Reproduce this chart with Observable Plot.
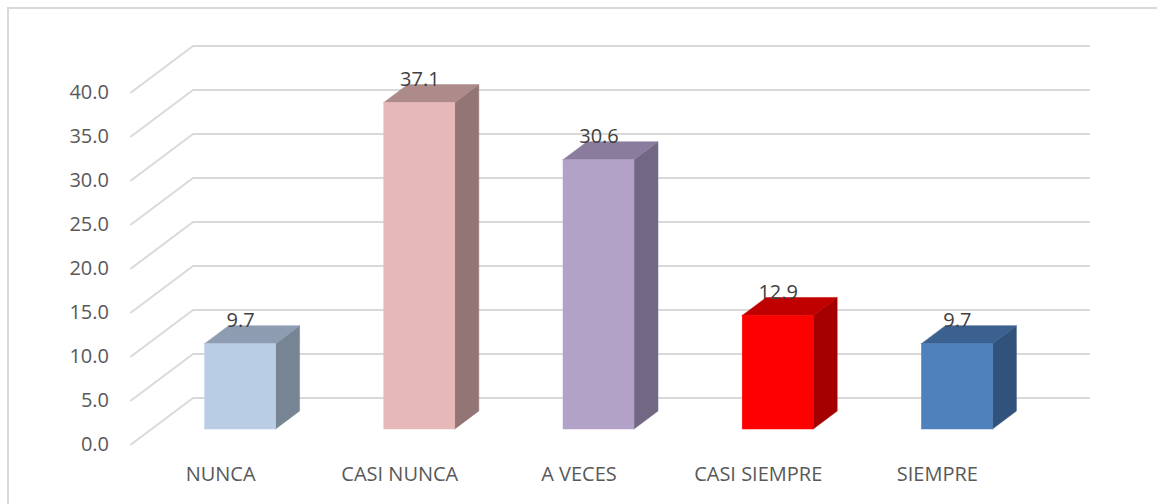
<!DOCTYPE html>
<html>
<head>
<meta charset="utf-8">
<script src="https://cdn.jsdelivr.net/npm/d3@7"></script>
<script src="https://cdn.jsdelivr.net/npm/@observablehq/plot@0.6"></script>
<style>
  html, body { margin: 0; padding: 0; background: #fff; overflow: hidden; }
  #wrap { position: relative; width: 1157px; height: 504px; overflow: hidden; }
  #border { position: absolute; left: 7px; top: 7px; width: 1300px; height: 700px; border: 2px solid #D9D9D9; box-sizing: border-box; }
  #chart { position: absolute; left: 0; top: 0; }
</style>
</head>
<body>
<div id="wrap"><div id="border"></div><div id="chart"></div></div>
<script>
// ---- data ----
const categories = ["NUNCA", "CASI NUNCA", "A VECES", "CASI SIEMPRE", "SIEMPRE"];
const values = [9.7, 37.1, 30.6, 12.9, 9.7];
const frontColors = ["#B9CDE5", "#E6B9B8", "#B3A2C7", "#FF0000", "#4F81BD"];
const sideColors  = ["#768494", "#937575", "#736883", "#A50000", "#31527A"];
const topColors   = ["#8D9CB0", "#AD8B8A", "#897C9C", "#C00000", "#3B6190"];
const yTicks = [0, 5, 10, 15, 20, 25, 30, 35, 40];
const yTickLabels = ["0.0", "5.0", "10.0", "15.0", "20.0", "25.0", "30.0", "35.0", "40.0"];

// ---- layout (scale ranges and oblique depth) ----
const X_DOMAIN = [-0.5, categories.length - 0.5];
const X_RANGE = [150.5, 1046.5];
const Y_DOMAIN = [0, 40];
const Y_RANGE = [429, 77];
const ux = (X_RANGE[1] - X_RANGE[0]) / (X_DOMAIN[1] - X_DOMAIN[0]); // px per category
const uy = (Y_RANGE[0] - Y_RANGE[1]) / (Y_DOMAIN[1] - Y_DOMAIN[0]); // px per unit
const SLOPE = 0.75;          // vertical px per horizontal px of depth
const halfW = 35.5 / ux;     // half bar width in category units
const barDepth = 24;         // px
const wallFront = -20;       // px
const wallBack = 42;         // px
const ddx = d => d / ux;
const ddy = d => SLOPE * d / uy;

// gridlines
const grid = [];
yTicks.forEach(v => {
  grid.push({v, x: X_DOMAIN[0] + ddx(wallFront), y: v + ddy(wallFront)});
  grid.push({v, x: X_DOMAIN[0] + ddx(wallBack), y: v + ddy(wallBack)});
  grid.push({v, x: X_DOMAIN[1] + ddx(wallBack), y: v + ddy(wallBack)});
});
const tickLabels = yTicks.map((v, k) => ({x: X_DOMAIN[0] + ddx(wallFront), y: v + ddy(wallFront), label: yTickLabels[k]}));

// bars
const bars = categories.map((c, i) => ({i, c, v: values[i], fill: frontColors[i]}));
const faces = [];
const dX = ddx(barDepth), dY = ddy(barDepth);
bars.forEach(b => {
  const {i, v} = b;
  // side face
  const sid = "s" + i;
  faces.push({id: sid, fill: sideColors[i], x: i + halfW, y1: 0, y2: v});
  faces.push({id: sid, fill: sideColors[i], x: i + halfW + dX, y1: dY, y2: v + dY});
  // top face
  const tid = "t" + i;
  faces.push({id: tid, fill: topColors[i], x: i - halfW, y1: v, y2: v});
  faces.push({id: tid, fill: topColors[i], x: i - halfW + dX, y1: v, y2: v + dY});
  faces.push({id: tid, fill: topColors[i], x: i + halfW, y1: v, y2: v + dY});
  faces.push({id: tid, fill: topColors[i], x: i + halfW + dX, y1: v + dY, y2: v + dY});
});
const catLabels = bars.map(b => ({x: b.i + ddx(wallFront), y: ddy(wallFront), label: b.c}));
const valLabels = bars.map(b => ({x: b.i, y: b.v + dY, label: b.v.toFixed(1)}));

const chart = Plot.plot({
  width: 1157,
  height: 504,
  x: {type: "linear", domain: X_DOMAIN, range: X_RANGE, axis: null},
  y: {type: "linear", domain: Y_DOMAIN, range: Y_RANGE, axis: null},
  color: {type: "identity"},
  style: {fontFamily: "'Open Sans', sans-serif", background: "transparent", overflow: "visible"},
  marks: [
    Plot.line(grid, {x: "x", y: "y", z: "v", stroke: "#D9D9D9", strokeWidth: 2}),
    Plot.text(tickLabels, {x: "x", y: "y", text: "label", textAnchor: "end", dx: -22, fontSize: 20, fill: "#595959"}),
    Plot.areaY(faces, {x: "x", y1: "y1", y2: "y2", z: "id", fill: "fill", stroke: "fill", strokeWidth: 0.5}),
    Plot.rect(bars, {x1: b => b.i - halfW, x2: b => b.i + halfW, y1: 0, y2: "v", fill: "fill", stroke: "fill", strokeWidth: 0.5, inset: 0}),
    Plot.text(valLabels, {x: "x", y: "y", text: "label", lineAnchor: "bottom", dy: 1, fontSize: 20, fill: "#404040"}),
    Plot.text(catLabels, {x: "x", y: "y", text: "label", dy: 30, fontSize: 20, fill: "#595959"})
  ]
});
document.getElementById("chart").appendChild(chart);
</script>
</body>
</html>
